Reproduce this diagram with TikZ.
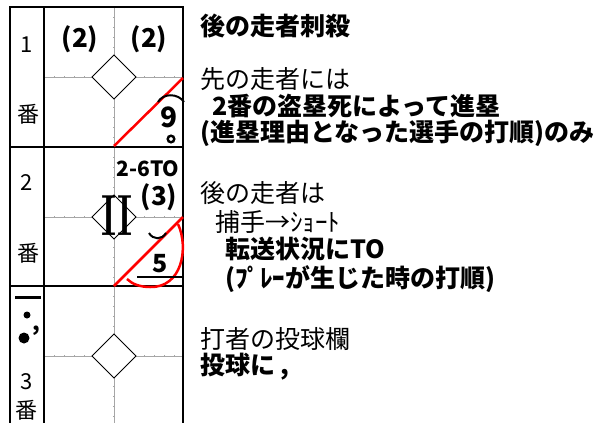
\documentclass[tikz,border=0pt]{standalone}
\usepackage{fontspec}
\newfontfamily\jp{Noto Sans CJK JP}
\begin{document}
\begin{tikzpicture}[x=1pt,y=-1pt,
  jpr/.style={font=\jp\fontsize{25}{25}\selectfont, inner sep=0pt, anchor=west},
  jpb/.style={font=\jp\bfseries\fontsize{25}{25}\selectfont, inner sep=0pt, anchor=west},
  colt/.style={font=\jp\fontsize{22}{22}\selectfont, inner sep=0pt},
  cellt/.style={font=\jp\bfseries\fontsize{26}{26}\selectfont, inner sep=0pt},
  frame/.style={line width=2pt, black},
  guide/.style={line width=0.8pt, gray!70},
  ticks/.style={line width=2.4pt, gray!70, dash pattern=on 0.6pt off 9.4pt},
  base/.style={line width=0.8pt, draw=black, fill=white},
  redl/.style={line width=2.5pt, red},
  pen/.style={line width=2pt, black}]
\useasboundingbox (0,0) rectangle (616,423);
% guide lines and diamonds
\foreach \t/\c in {7/77, 147/217, 286/356} {
  \draw[guide] (114,\t) -- (114,\t+140);
  \draw[guide] (44,\c) -- (183,\c);
  \draw[ticks] (114,\t) -- (114,\t+140);
  \draw[ticks] (44,\c) -- (183,\c);
  \draw[base] (114,\c-22) -- (136,\c) -- (114,\c+22) -- (92,\c) -- cycle;
}
% frame
\draw[frame] (10,7) -- (10,423);
\draw[frame] (44,7) -- (44,423);
\draw[frame] (183,7) -- (183,423);
\draw[frame] (9,7) -- (184,7);
\draw[frame] (9,147) -- (184,147);
\draw[frame] (9,286) -- (184,286);
% row 1
\node[colt] (n1) at (27,45) {1};
\node[colt] (b1) at (28,114) {番};
\node[cellt] (c1a) at (80,39) {(2)};
\node[cellt] (c1b) at (149,39) {(2)};
\draw[redl] (114,146) -- (183,78);
\node[font=\jp\bfseries\fontsize{28}{28}\selectfont, inner sep=0pt] (nine) at (169,117) {9};
\draw[pen] (158,102) .. controls (163,93) and (178,93) .. (184,102);
\draw[line width=2.4pt] (171,139) circle (3.3);
% row 2
\node[colt] (n2) at (27,183) {2};
\node[colt] (b2) at (28,253) {番};
\node[font=\jp\bfseries\fontsize{21}{21}\selectfont, inner sep=0pt] (to) at (148,169) {2-6TO};
\node[cellt] (c2) at (159,197) {(3)};
\node[inner sep=0pt, font=\bfseries\fontsize{58}{58}\selectfont] (two) at (117,216) {\scalebox{0.62}[1]{II}};
\draw[redl] (114,286) -- (183,217);
\draw[redl] (178,224) .. controls (189,248) and (182,288) .. (150,287) .. controls (140,287) and (132,284) .. (127,279);
\node[font=\jp\bfseries\fontsize{25}{25}\selectfont, inner sep=0pt] (five) at (160,264) {5};
\draw[pen] (149,233) .. controls (153,240) and (162,240) .. (166,233);
\draw[pen] (137,277) -- (182,277);
% row 3
\draw[line width=3pt] (15,297) -- (41,297);
\fill (27,315) circle (3.5);
\fill (24,338) circle (5.5);
\node[font=\jp\bfseries\fontsize{22}{22}\selectfont, inner sep=0pt] (cm) at (36,331) {,};
\node[colt] (n3) at (27,382) {3};
\node[colt] (b3) at (27,410) {番};
% right texts
\node[jpb] (t1) at (200,26) {後の走者刺殺};
\node[jpr] (t2) at (200,79) {先の走者には};
\node[jpb] (t3) at (212,106) {2番の盗塁死によって進塁};
\node[jpb] (t4) at (200,133) {(進塁理由となった選手の打順)のみ};
\node[jpr] (t5) at (200,193) {後の走者は};
\node[jpr] (t6) at (215,222) {捕手→ｼｮｰﾄ};
\node[jpb] (t7) at (225,249) {転送状況にTO};
\node[jpb] (t8) at (225,279) {(ﾌﾟﾚｰが生じた時の打順)};
\node[jpr] (t9) at (200,339) {打者の投球欄};
\node[jpb] (t10) at (200,367) {投球に ,};
\end{tikzpicture}
\end{document}
